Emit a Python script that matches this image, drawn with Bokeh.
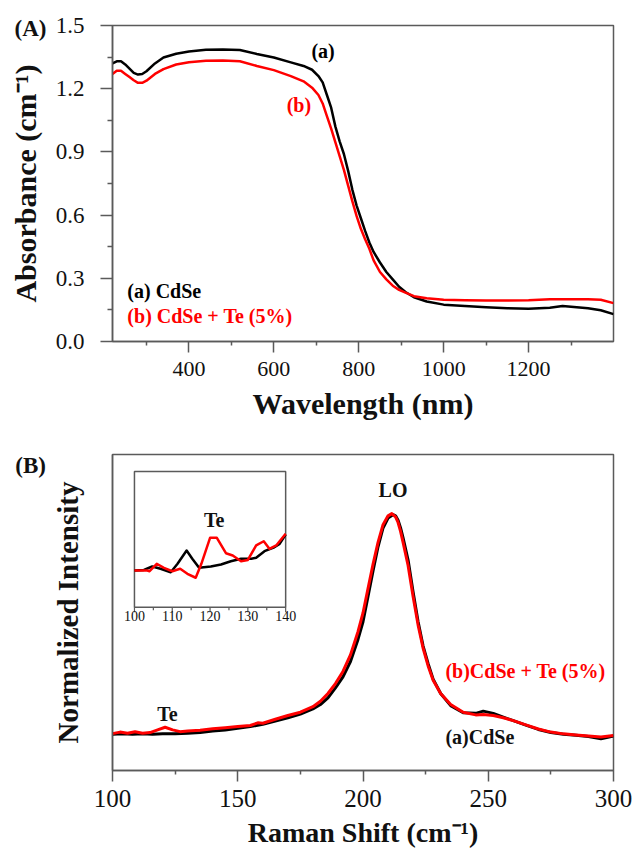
from bokeh.plotting import figure
from bokeh.layouts import column
from bokeh.models import FixedTicker, PrintfTickFormatter, Range1d, Label
from bokeh.core.properties import value
from bokeh.embed import file_html
from bokeh.resources import INLINE

FONT = "Liberation Serif"
AXC = "#5a5a5a"
RED = "#ff0000"
BLACK = "#000000"

# ---------------- Panel A data: absorbance spectra ----------------
wl_cdse = [220, 230, 240, 250, 260, 270, 280, 290, 300, 320, 340, 370, 400, 440, 480, 520, 560, 600, 640,
           670, 690, 705, 715, 725, 735, 745, 755, 765, 775, 785, 795, 805, 815, 825, 835, 850, 865, 880,
           895, 910, 930, 960, 1000, 1050, 1100, 1150, 1200, 1250, 1280, 1300, 1340, 1370, 1400]
abs_cdse = [1.32, 1.33, 1.33, 1.315, 1.295, 1.275, 1.267, 1.27, 1.283, 1.32, 1.348, 1.366, 1.377, 1.385, 1.386,
            1.384, 1.365, 1.348, 1.325, 1.308, 1.29, 1.26, 1.23, 1.17, 1.11, 1.02, 0.95, 0.89, 0.81, 0.72,
            0.645, 0.585, 0.525, 0.47, 0.425, 0.375, 0.33, 0.295, 0.26, 0.235, 0.21, 0.19, 0.175, 0.168,
            0.163, 0.158, 0.156, 0.16, 0.168, 0.165, 0.158, 0.148, 0.13]
wl_cdsete = wl_cdse
abs_cdsete = [1.27, 1.285, 1.285, 1.27, 1.255, 1.24, 1.228, 1.228, 1.238, 1.27, 1.293, 1.315, 1.326, 1.333,
              1.334, 1.33, 1.308, 1.288, 1.26, 1.235, 1.205, 1.17, 1.13, 1.07, 1.01, 0.945, 0.88, 0.815,
              0.74, 0.665, 0.595, 0.535, 0.485, 0.44, 0.385, 0.33, 0.295, 0.265, 0.245, 0.232, 0.215, 0.205,
              0.198, 0.196, 0.195, 0.195, 0.196, 0.2, 0.201, 0.201, 0.2, 0.198, 0.182]

a_xticks = [400, 600, 800, 1000, 1200]
a_xminor = [300, 500, 700, 900, 1100, 1300]
a_yticks = [0.0, 0.3, 0.6, 0.9, 1.2, 1.5]
a_yminor = [0.15, 0.45, 0.75, 1.05, 1.35]

# ---------------- Panel B data: Raman spectra ----------------
ram_x_cdse = [100, 104, 108, 112, 116, 120, 125, 130, 135, 140, 145, 150, 155, 160, 165, 170, 175, 180, 183,
              186, 189, 192, 195, 198, 200, 202, 204, 206, 208, 210, 212, 213, 214, 215, 216, 218, 220, 222,
              224, 226, 228, 231, 235, 240, 245, 248, 252, 256, 260, 265, 270, 275, 280, 285, 290, 295, 300]
ram_cdse = [0.0, 0.002, 0.0, 0.003, 0.0, 0.002, 0.003, 0.005, 0.008, 0.015, 0.02, 0.027, 0.035, 0.045, 0.06,
            0.075, 0.092, 0.115, 0.135, 0.165, 0.21, 0.26, 0.33, 0.43, 0.51, 0.625, 0.74, 0.85, 0.935, 0.98,
            0.995, 0.99, 0.97, 0.935, 0.89, 0.79, 0.645, 0.51, 0.40, 0.32, 0.25, 0.185, 0.13, 0.098, 0.095,
            0.105, 0.095, 0.078, 0.062, 0.042, 0.022, 0.008, 0.0, -0.004, -0.01, -0.02, -0.008]
ram_x_cdsete = [100, 103, 106, 109, 112, 115, 118, 121, 124, 127, 130, 135, 140, 145, 150, 155, 158, 160, 165,
                170, 175, 180, 183, 186, 189, 192, 195, 198, 200, 202, 204, 206, 208, 210, 211.5, 213, 214,
                215, 216, 218, 220, 222, 224, 226, 228, 231, 235, 240, 245, 248, 252, 256, 260, 265, 270, 275,
                280, 285, 290, 295, 300]
ram_cdsete = [0.003, 0.01, 0.005, 0.012, 0.005, 0.008, 0.02, 0.032, 0.02, 0.012, 0.015, 0.018, 0.025, 0.03,
              0.035, 0.04, 0.052, 0.05, 0.068, 0.085, 0.1, 0.125, 0.15, 0.185, 0.23, 0.285, 0.36, 0.465, 0.55,
              0.66, 0.77, 0.87, 0.95, 0.99, 1.0, 0.985, 0.96, 0.92, 0.87, 0.765, 0.625, 0.495, 0.39, 0.31,
              0.245, 0.185, 0.135, 0.1, 0.088, 0.09, 0.085, 0.075, 0.062, 0.043, 0.024, 0.01, 0.002, -0.003,
              -0.008, -0.012, -0.005]

b_xticks = [100, 150, 200, 250, 300]
b_xminor = [125, 175, 225, 275]

# inset (100-140 cm-1)
ins_x_cdse = [100, 102.5, 104.7, 106.9, 109.6, 111.4, 113.8, 115.3, 117.1, 120.2, 122.9, 125.5, 128.2, 130.9,
              132.2, 134.4, 137.0, 138.4, 140]
ins_cdse = [0.27, 0.275, 0.30, 0.283, 0.258, 0.32, 0.418, 0.357, 0.29, 0.30, 0.315, 0.339, 0.357, 0.357,
            0.364, 0.413, 0.442, 0.467, 0.536]
ins_x_cdsete = [100, 103.4, 104.0, 105.9, 107.8, 110.0, 112.1, 114.0, 116.2, 117.7, 120.0, 121.8, 124.2, 126.0,
                128.2, 130.0, 132.2, 134.2, 135.7, 137.5, 140]
ins_cdsete = [0.27, 0.27, 0.265, 0.32, 0.29, 0.265, 0.283, 0.246, 0.217, 0.32, 0.511, 0.511, 0.398, 0.381,
              0.339, 0.348, 0.455, 0.486, 0.43, 0.455, 0.541]
ins_ticks = [100, 110, 120, 130, 140]
ins_minor = [105, 115, 125, 135]


def style_axis(ax, tick_out, minor_out, label_size, label_standoff, title_size, title_standoff):
    ax.axis_line_color = AXC
    ax.axis_line_width = 1.5
    ax.major_tick_line_color = AXC
    ax.minor_tick_line_color = AXC
    ax.major_tick_line_width = 1.5
    ax.minor_tick_line_width = 1.5
    ax.major_tick_in = 0
    ax.minor_tick_in = 0
    ax.major_tick_out = tick_out
    ax.minor_tick_out = minor_out
    ax.major_label_text_font = FONT
    ax.major_label_text_font_size = label_size
    ax.major_label_text_color = "#111111"
    ax.major_label_standoff = label_standoff
    ax.axis_label_text_font = FONT
    ax.axis_label_text_font_style = "bold"
    ax.axis_label_text_font_size = title_size
    ax.axis_label_text_color = "#111111"
    ax.axis_label_standoff = title_standoff


def panel_tag(text, x, y):
    return Label(x=x, y=y, text=text, text_font=FONT, text_font_style="bold", text_font_size="23px",
                 text_align="center", text_baseline="middle", text_color="#111111")


# ---------------- Figure A ----------------
A_FRAME_W, A_FRAME_H = 501, 317
A_X0, A_X1, A_Y0, A_Y1 = 220, 1400, 0.0, 1.5
pA = figure(width=632, height=428, x_range=Range1d(A_X0, A_X1), y_range=Range1d(A_Y0, A_Y1),
            output_backend="svg", toolbar_location=None,
            min_border_left=112, min_border_right=19, min_border_top=24, min_border_bottom=87)
pA.grid.visible = False
pA.outline_line_color = AXC
pA.outline_line_width = 1.5
pA.background_fill_color = "white"
pA.border_fill_color = "white"

pA.xaxis.ticker = FixedTicker(ticks=a_xticks, minor_ticks=a_xminor)
pA.yaxis.ticker = FixedTicker(ticks=a_yticks, minor_ticks=a_yminor)
pA.yaxis.formatter = PrintfTickFormatter(format="%.1f")
pA.xaxis.axis_label = "Wavelength (nm)"
pA.yaxis.axis_label = "Absorbance (cm\u207b\u00b9)"
style_axis(pA.xaxis[0], 11, 4, "22px", 9, "30px", 8)
style_axis(pA.yaxis[0], 12, 5, "23px", 16, "30px", 11)

pA.line(wl_cdse, abs_cdse, line_color=BLACK, line_width=2.5, line_join="round")
pA.line(wl_cdsete, abs_cdsete, line_color=RED, line_width=2.5, line_join="round")

pA.text(x=[716], y=[1.377], text=["(a)"], text_font=value(FONT), text_font_style="bold",
        text_font_size="20px", text_color=BLACK, text_align="center", text_baseline="middle")
pA.text(x=[659], y=[1.125], text=["(b)"], text_font=value(FONT), text_font_style="bold",
        text_font_size="20px", text_color=RED, text_align="center", text_baseline="middle")
pA.text(x=[255], y=[0.241], text=["(a) CdSe"], text_font=value(FONT), text_font_style="bold",
        text_font_size="20px", text_color=BLACK, text_align="left", text_baseline="middle")
pA.text(x=[255], y=[0.123], text=["(b) CdSe + Te (5%)"], text_font=value(FONT), text_font_style="bold",
        text_font_size="20px", text_color=RED, text_align="left", text_baseline="middle")
# panel tag: data units just left of the frame; put in a side panel so it is not clipped to the frame
pA.add_layout(panel_tag("(A)", A_X0 - 82 * (A_X1 - A_X0) / A_FRAME_W,
                        A_Y1 - 3 * (A_Y1 - A_Y0) / A_FRAME_H), "above")

# ---------------- Figure B ----------------
B_FRAME_W, B_FRAME_H = 502, 316
B_X0, B_X1, B_Y0, B_Y1 = 100, 300, -0.164, 1.268
pB = figure(width=632, height=427, x_range=Range1d(B_X0, B_X1), y_range=Range1d(B_Y0, B_Y1),
            output_backend="svg", toolbar_location=None,
            min_border_left=112, min_border_right=18, min_border_top=26, min_border_bottom=85)
pB.grid.visible = False
pB.outline_line_color = AXC
pB.outline_line_width = 1.5
pB.background_fill_color = "white"
pB.border_fill_color = "white"

pB.xaxis.ticker = FixedTicker(ticks=b_xticks, minor_ticks=b_xminor)
pB.yaxis.ticker = FixedTicker(ticks=[], minor_ticks=[])
pB.xaxis.axis_label = "Raman Shift (cm\u207b\u00b9)"
pB.yaxis.axis_label = "Normalized Intensity"
style_axis(pB.xaxis[0], 11, 4, "25px", 8, "28px", 7)
style_axis(pB.yaxis[0], 0, 0, "1px", 0, "29px", 29)

pB.line(ram_x_cdse, ram_cdse, line_color=BLACK, line_width=3, line_join="round")
pB.line(ram_x_cdsete, ram_cdsete, line_color=RED, line_width=3, line_join="round")

pB.text(x=[212], y=[1.105], text=["LO"], text_font=value(FONT), text_font_style="bold",
        text_font_size="20px", text_color="#111111", text_align="center", text_baseline="middle")
pB.text(x=[121.9], y=[0.091], text=["Te"], text_font=value(FONT), text_font_style="bold",
        text_font_size="20px", text_color="#111111", text_align="center", text_baseline="middle")
pB.text(x=[232.9], y=[0.286], text=["(b)CdSe + Te (5%)"], text_font=value(FONT), text_font_style="bold",
        text_font_size="20px", text_color=RED, text_align="left", text_baseline="middle")
pB.text(x=[232.9], y=[-0.014], text=["(a)CdSe"], text_font=value(FONT), text_font_style="bold",
        text_font_size="20px", text_color="#111111", text_align="left", text_baseline="middle")
pB.add_layout(panel_tag("(B)", B_X0 - 82 * (B_X1 - B_X0) / B_FRAME_W,
                        B_Y1 - 11 * (B_Y1 - B_Y0) / B_FRAME_H), "above")

# inset placed through its own ranges: pixel box inside the frame (from frame left / bottom)
INS_L, INS_R, INS_B, INS_T = 22, 173.5, 163.3, 299.0
ix_per_px = (ins_ticks[-1] - ins_ticks[0]) / (INS_R - INS_L)
iy_per_px = 1.0 / (INS_T - INS_B)
pB.extra_x_ranges = {"ix": Range1d(ins_ticks[0] - INS_L * ix_per_px,
                                   ins_ticks[-1] + (B_FRAME_W - INS_R) * ix_per_px)}
pB.extra_y_ranges = {"iy": Range1d(0 - INS_B * iy_per_px, 1 + (B_FRAME_H - INS_T) * iy_per_px)}

pB.quad(left=[ins_ticks[0]], right=[ins_ticks[-1]], bottom=[0], top=[1], fill_color="white",
        line_color=AXC, line_width=1.5, x_range_name="ix", y_range_name="iy")
pB.segment(x0=ins_ticks, y0=[0] * len(ins_ticks), x1=ins_ticks, y1=[-5 * iy_per_px] * len(ins_ticks),
           line_color=AXC, line_width=1.2, x_range_name="ix", y_range_name="iy")
pB.segment(x0=ins_minor, y0=[0] * len(ins_minor), x1=ins_minor, y1=[-3 * iy_per_px] * len(ins_minor),
           line_color=AXC, line_width=1.2, x_range_name="ix", y_range_name="iy")
pB.text(x=ins_ticks, y=[0] * len(ins_ticks), text=[str(t) for t in ins_ticks], text_font=value(FONT),
        text_font_size="14px", text_color="#111111", text_align="center", text_baseline="top",
        y_offset=4, x_range_name="ix", y_range_name="iy")
pB.line(ins_x_cdse, ins_cdse, line_color=BLACK, line_width=2.5, line_join="round",
        x_range_name="ix", y_range_name="iy")
pB.line(ins_x_cdsete, ins_cdsete, line_color=RED, line_width=2.5, line_join="round",
        x_range_name="ix", y_range_name="iy")
pB.text(x=[121.1], y=[0.644], text=["Te"], text_font=value(FONT), text_font_style="bold",
        text_font_size="20px", text_color="#111111", text_align="center", text_baseline="middle",
        x_range_name="ix", y_range_name="iy")

layout = column(pA, pB, spacing=0)
open("out.html", "w").write(file_html(layout, INLINE))
